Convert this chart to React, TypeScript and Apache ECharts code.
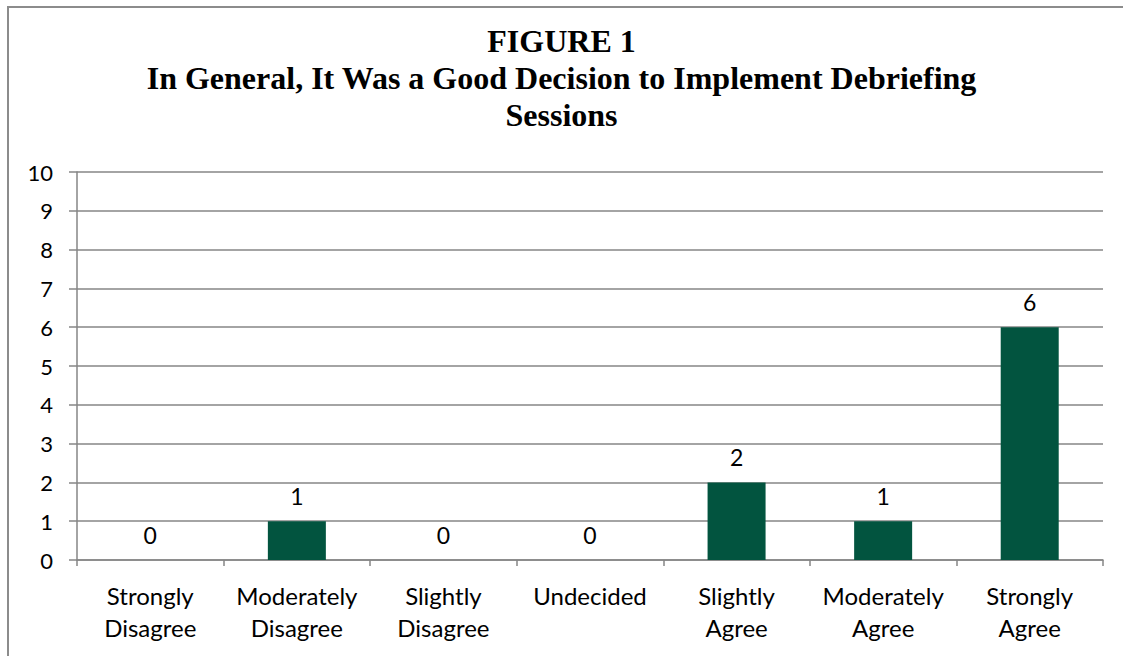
import React, { useEffect, useRef } from "react";
import * as echarts from "echarts";

const categories = [
  "Strongly\nDisagree",
  "Moderately\nDisagree",
  "Slightly\nDisagree",
  "Undecided",
  "Slightly\nAgree",
  "Moderately\nAgree",
  "Strongly\nAgree",
];
const values = [0, 1, 0, 0, 2, 1, 6];
const titleLines = [
  "FIGURE 1",
  "In General, It Was a Good Decision to Implement Debriefing",
  "Sessions",
];

const labelFont = "Lato";

export default function App() {
  const ref = useRef<HTMLDivElement>(null);
  useEffect(() => {
    document.body.style.margin = "0";
    const chart = echarts.init(ref.current!, null, { renderer: "svg" });
    chart.setOption({
      animation: false,
      backgroundColor: "#ffffff",
      title: {
        text: titleLines.join("\n"),
        left: "center",
        top: 17,
        textStyle: {
          fontFamily: "Liberation Serif",
          fontWeight: "bold",
          fontSize: 32,
          lineHeight: 37,
          color: "#000",
        },
      },
      graphic: [
        {
          type: "rect",
          shape: { x: 8, y: 7, width: 1300, height: 800 },
          style: { fill: "none", stroke: "#8c8c8c", lineWidth: 2 },
          silent: true,
        },
      ],
      grid: { left: 77, right: 20, top: 172, bottom: 96, containLabel: false },
      xAxis: {
        type: "category",
        data: categories,
        axisLine: { show: true, lineStyle: { color: "#868686", width: 1.5 } },
        axisTick: { show: true, length: 6, lineStyle: { color: "#868686", width: 1.5 } },
        axisLabel: {
          interval: 0,
          margin: 19,
          fontFamily: labelFont,
          fontSize: 24,
          lineHeight: 32,
          color: "#000",
        },
      },
      yAxis: {
        type: "value",
        min: 0,
        max: 10,
        interval: 1,
        axisLine: { show: true, lineStyle: { color: "#868686", width: 1.5 } },
        axisTick: { show: true, length: 8, lineStyle: { color: "#868686", width: 1.5 } },
        splitLine: { show: true, lineStyle: { color: "#868686", width: 1.5 } },
        axisLabel: {
          margin: 24,
          fontFamily: labelFont,
          fontSize: 22,
          color: "#000",
        },
      },
      series: [
        {
          type: "bar",
          data: values,
          barWidth: 58,
          itemStyle: { color: "#02543F" },
          label: {
            show: true,
            position: "top",
            distance: 14,
            fontFamily: labelFont,
            fontSize: 23,
            color: "#000",
          },
        },
      ],
    });
    return () => chart.dispose();
  }, []);
  return <div ref={ref} style={{ width: 1123, height: 656 }} />;
}
